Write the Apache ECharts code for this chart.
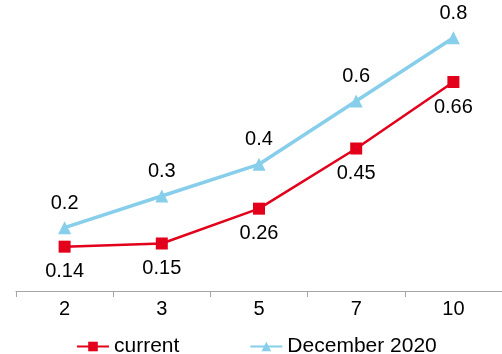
<!DOCTYPE html>
<html>
<head>
<meta charset="utf-8">
<script src="https://cdn.jsdelivr.net/npm/echarts@6/dist/echarts.min.js"></script>
<style>
  html, body { margin: 0; padding: 0; background: #fff; }
  #chart { width: 502px; height: 354px; }
</style>
</head>
<body>
<div id="chart"></div>
<script>
// Categories along the horizontal axis
const categories = ['2', '3', '5', '7', '10'];
// Series values
const currentValues = [0.14, 0.15, 0.26, 0.45, 0.66];
const dec2020Values = [0.2, 0.3, 0.4, 0.6, 0.8];

const chart = echarts.init(document.getElementById('chart'), null, { renderer: 'canvas' });
const font = 'Liberation Sans, Arial, sans-serif';

chart.setOption({
  backgroundColor: '#ffffff',
  animation: false,
  grid: { left: 16, right: -6, top: 6, bottom: 63, containLabel: false },
  xAxis: {
    type: 'category',
    data: categories,
    boundaryGap: true,
    axisLine: { show: true, lineStyle: { color: '#a6a6a6', width: 1 } },
    axisTick: { show: true, length: 6, lineStyle: { color: '#a6a6a6' } },
    axisLabel: { color: '#000', fontSize: 20, fontFamily: font, margin: 8 },
    splitLine: { show: false }
  },
  yAxis: {
    type: 'value',
    min: 0,
    max: 0.9,
    show: false,
    splitLine: { show: false }
  },
  legend: {
    top: 331,
    left: 71,
    itemWidth: 32,
    itemHeight: 12,
    itemGap: 70,
    textStyle: { color: '#000', fontSize: 21, fontFamily: font },
    data: [
      { name: 'current' },
      { name: 'December 2020' }
    ]
  },
  series: [
    {
      name: 'December 2020',
      type: 'line',
      data: dec2020Values,
      symbol: 'triangle',
      symbolSize: 13,
      lineStyle: { color: '#87ceeb', width: 3.5 },
      itemStyle: { color: '#87ceeb' },
      label: {
        show: true,
        position: 'top',
        distance: 8,
        color: '#000',
        fontSize: 20,
        fontFamily: font
      }
    },
    {
      name: 'current',
      type: 'line',
      data: currentValues,
      symbol: 'rect',
      symbolSize: 12,
      lineStyle: { color: '#e2001a', width: 2.5 },
      itemStyle: { color: '#e2001a' },
      label: {
        show: true,
        position: 'bottom',
        distance: 9,
        color: '#000',
        fontSize: 20,
        fontFamily: font
      }
    }
  ]
});
</script>
</body>
</html>
